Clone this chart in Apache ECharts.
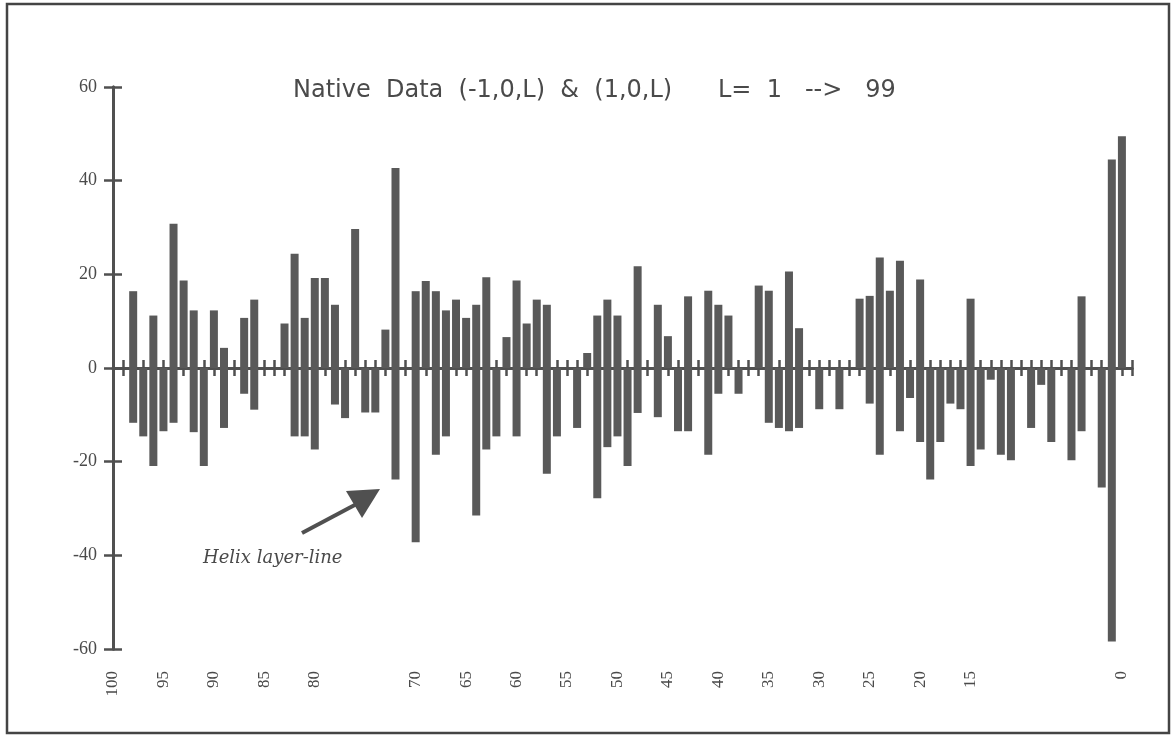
<!DOCTYPE html>
<html>
<head>
<meta charset="utf-8">
<script src="https://cdn.jsdelivr.net/npm/echarts@6/dist/echarts.min.js"></script>
<style>
  html, body { margin: 0; padding: 0; background: #fff; }
  #chart { width: 1174px; height: 738px; }
</style>
</head>
<body>
<div id="chart"></div>
<script>
// L runs from 98 (left) down to 0 (right), one entry per L
var firstL = 98;

// bars above zero
var upValues = [
    16.4, null, 11.2, null, 30.8, 18.7, 12.3, null, 12.3, 4.3,
    null, 10.7, 14.6, null, null, 9.5, 24.4, 10.7, 19.2, 19.2,
    13.5, null, 29.7, null, null, 8.2, 42.7, null, 16.4, 18.6,
    16.4, 12.3, 14.6, 10.7, 13.5, 19.4, null, 6.6, 18.7, 9.5,
    14.6, 13.5, null, null, null, 3.2, 11.2, 14.6, 11.2, null,
    21.7, null, 13.5, 6.8, null, 15.3, null, 16.5, 13.5, 11.2,
    null, null, 17.6, 16.5, null, 20.6, 8.5, null, null, null,
    null, null, 14.8, 15.4, 23.6, 16.5, 22.9, null, 18.9, null,
    null, null, null, 14.8, null, null, null, null, null, null,
    null, null, null, null, 15.3, null, null, 44.5, 49.5
];

// bars below zero
var downValues = [
    -11.7, -14.6, -20.9, -13.5, -11.7, null, -13.7, -20.9, null, -12.8,
    null, -5.5, -8.9, null, null, null, -14.6, -14.6, -17.4, null,
    -7.8, -10.7, null, -9.5, -9.5, null, -23.8, null, -37.2, null,
    -18.5, -14.6, null, null, -31.5, -17.4, -14.6, null, -14.6, null,
    null, -22.6, -14.6, null, -12.8, null, -27.8, -16.9, -14.6, -20.9,
    -9.6, null, -10.5, null, -13.5, -13.5, null, -18.5, -5.5, null,
    -5.5, null, null, -11.7, -12.8, -13.5, -12.8, null, -8.8, null,
    -8.8, null, null, -7.6, -18.5, null, -13.5, -6.4, -15.8, -23.8,
    -15.8, -7.6, -8.8, -20.9, -17.4, -2.5, -18.5, -19.7, null, -12.8,
    -3.6, -15.8, null, -19.7, -13.5, null, -25.5, -58.4, null
];

// tick labels shown under the plot
var xLabels = [100, 95, 90, 85, 80, 70, 65, 60, 55, 50, 45, 40, 35, 30, 25, 20, 15, 0];

var barColor = '#595959';
var axisColor = '#505050';
var textColor = '#4a4a4a';

function toPairs(values) {
    var out = [];
    for (var i = 0; i < values.length; i++) {
        out.push([firstL - i, values[i]]);
    }
    return out;
}

var xTicks = [];
for (var t = -1; t <= 100; t++) {
    xTicks.push(t);
}

// shared x scale, the zero line gets ticks on both sides
function xAxisBase(extra) {
    var axis = {
        type: 'value',
        inverse: true,
        min: -1,
        max: 100,
        splitLine: { show: false }
    };
    for (var k in extra) {
        axis[k] = extra[k];
    }
    return axis;
}

var chart = echarts.init(document.getElementById('chart'));

var option = {
    animation: false,
    backgroundColor: '#ffffff',
    title: {
        text: 'Native  Data  (-1,0,L)  &  (1,0,L)      L=  1   -->   99',
        left: 288,
        top: 74,
        textStyle: {
            fontFamily: 'DejaVu Sans',
            fontSize: 24,
            fontWeight: 'normal',
            color: textColor
        }
    },
    grid: {
        left: 113,
        right: 42,
        top: 87,
        bottom: 89,
        outerBoundsMode: 'none'
    },
    xAxis: [
        xAxisBase({
            position: 'bottom',
            axisLine: { onZero: true, lineStyle: { color: axisColor, width: 3 } },
            axisTick: { customValues: xTicks, length: 8, lineStyle: { color: axisColor, width: 2.5 } },
            axisLabel: { show: false }
        }),
        xAxisBase({
            position: 'top',
            axisLine: { onZero: true, lineStyle: { color: axisColor, width: 3 } },
            axisTick: { customValues: xTicks, length: 8, lineStyle: { color: axisColor, width: 2.5 } },
            axisLabel: { show: false }
        }),
        xAxisBase({
            position: 'bottom',
            axisLine: { show: false, onZero: false },
            axisTick: { show: false },
            axisLabel: {
                customValues: xLabels,
                rotate: 90,
                margin: 22,
                color: textColor,
                fontFamily: 'Liberation Serif',
                fontSize: 17
            }
        })
    ],
    yAxis: [{
        type: 'value',
        min: -60,
        max: 60,
        interval: 20,
        splitLine: { show: false },
        axisLine: { show: true, onZero: false, lineStyle: { color: axisColor, width: 3 } },
        axisTick: { length: 9, lineStyle: { color: axisColor, width: 2.5 } },
        axisLabel: {
            margin: 16,
            color: textColor,
            fontFamily: 'Liberation Serif',
            fontSize: 18
        }
    }, {
        type: 'value',
        position: 'left',
        min: -60,
        max: 60,
        interval: 20,
        splitLine: { show: false },
        axisLine: { show: true, onZero: false, lineStyle: { color: axisColor, width: 3 } },
        axisTick: { inside: true, length: 9, lineStyle: { color: axisColor, width: 2.5 } },
        axisLabel: { show: false }
    }],
    series: [{
        name: '(1,0,L)',
        type: 'bar',
        data: toPairs(upValues),
        barWidth: 8,
        barGap: '-100%',
        itemStyle: { color: barColor }
    }, {
        name: '(-1,0,L)',
        type: 'bar',
        data: toPairs(downValues),
        barWidth: 8,
        barGap: '-100%',
        itemStyle: { color: barColor }
    }],
    graphic: [{
        // frame round the whole picture
        type: 'rect',
        shape: { x: 7, y: 4, width: 1162, height: 729 },
        style: { fill: 'none', stroke: '#444444', lineWidth: 2.5 }
    }, {
        type: 'line',
        shape: { x1: 302, y1: 533, x2: 366, y2: 499 },
        style: { stroke: axisColor, lineWidth: 4 }
    }, {
        type: 'polygon',
        shape: { points: [[346, 491], [380, 489], [362, 518]] },
        style: { fill: axisColor }
    }, {
        type: 'text',
        left: 203,
        top: 549,
        style: {
            text: 'Helix layer-line',
            font: 'italic 18px "DejaVu Serif"',
            fill: textColor
        }
    }]
};

chart.setOption(option);
</script>
</body>
</html>
